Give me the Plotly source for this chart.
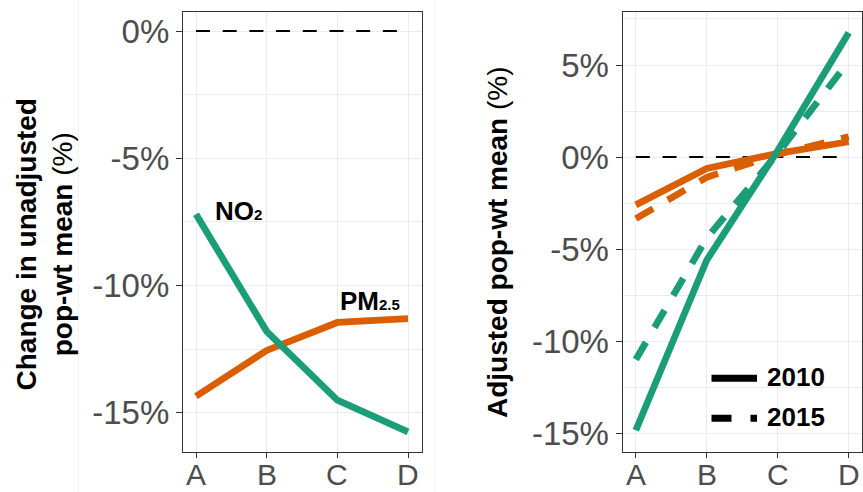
import plotly.graph_objects as go

# ---------------- data ----------------
categories = ["A", "B", "C", "D"]
unadj_no2 = [-7.2, -11.8, -14.5, -15.75]
unadj_pm25 = [-14.35, -12.55, -11.45, -11.3]
adj_no2_2010 = [-14.85, -5.6, 0.35, 6.75]
adj_no2_2015 = [-11.0, -4.4, 0.2, 5.2]
adj_pm25_2010 = [-2.6, -0.62, 0.2, 0.83]
adj_pm25_2015 = [-3.35, -1.1, 0.15, 1.1]
zero_ref = [0, 0, 0, 0]
left_ticks = [-15, -10, -5, 0]
left_ticktext = ["-15%", "-10%", "-5%", "0%"]
right_ticks = [-15, -10, -5, 0, 5]
right_ticktext = ["-15%", "-10%", "-5%", "0%", "5%"]

GREEN = "#1B9E77"
ORANGE = "#D95F02"
W, H = 863, 492
FONT = "Liberation Sans, Arial, sans-serif"
TICKCOL = "#4D4D4D"
LW = 6.8
DASH = "20px,17px"

def px(x):
    return x / W

def py(y):
    return 1 - y / H

fig = go.Figure()

# left panel
fig.add_trace(go.Scatter(x=categories, y=zero_ref, mode="lines", xaxis="x", yaxis="y",
                         line=dict(color="black", width=2, dash="14px,12.7px"), showlegend=False))
fig.add_trace(go.Scatter(x=categories, y=unadj_pm25, mode="lines", xaxis="x", yaxis="y",
                         line=dict(color=ORANGE, width=LW), showlegend=False))
fig.add_trace(go.Scatter(x=categories, y=unadj_no2, mode="lines", xaxis="x", yaxis="y",
                         line=dict(color=GREEN, width=LW), showlegend=False))

# right panel
fig.add_trace(go.Scatter(x=categories, y=zero_ref, mode="lines", xaxis="x2", yaxis="y2",
                         line=dict(color="black", width=2, dash="14px,12.7px"), showlegend=False))
fig.add_trace(go.Scatter(x=categories, y=adj_pm25_2015, mode="lines", xaxis="x2", yaxis="y2",
                         line=dict(color=ORANGE, width=LW, dash=DASH), showlegend=False))
fig.add_trace(go.Scatter(x=categories, y=adj_pm25_2010, mode="lines", xaxis="x2", yaxis="y2",
                         line=dict(color=ORANGE, width=LW), showlegend=False))
fig.add_trace(go.Scatter(x=categories, y=adj_no2_2015, mode="lines", xaxis="x2", yaxis="y2",
                         line=dict(color=GREEN, width=LW, dash=DASH), showlegend=False))
fig.add_trace(go.Scatter(x=categories, y=adj_no2_2010, mode="lines", xaxis="x2", yaxis="y2",
                         line=dict(color=GREEN, width=LW), showlegend=False))

axis_common = dict(
    showline=True, linecolor="#333333", linewidth=1.3, mirror=True,
    showgrid=True, gridcolor="#EBEBEB", gridwidth=1.3,
    ticks="outside", tickwidth=1.3, tickcolor="#333333",
    tickfont=dict(family=FONT, size=33, color=TICKCOL),
    zeroline=False, fixedrange=True, automargin=False,
)

ydom = [py(452), py(12)]

fig.update_layout(
    width=W, height=H,
    margin=dict(l=0, r=0, t=0, b=0),
    paper_bgcolor="white", plot_bgcolor="white",
    showlegend=False,
    xaxis=dict(domain=[px(183), px(422)], anchor="y", type="category",
               categoryorder="array", categoryarray=categories,
               range=[-0.184, 3.198], ticklen=5, showticklabels=False, **axis_common),
    yaxis=dict(domain=ydom, anchor="x", range=[-16.54, 0.75], ticklen=6,
               tickvals=left_ticks, ticktext=left_ticktext, ticklabelstandoff=0,
               minor=dict(dtick=2.5, tick0=0, showgrid=True, gridcolor="#EBEBEB",
                          gridwidth=1, ticks=""),
               **axis_common),
    xaxis2=dict(domain=[px(622.7), px(861.5)], anchor="y2", type="category",
                categoryorder="array", categoryarray=categories,
                range=[-0.185, 3.18], ticklen=5, showticklabels=False, **axis_common),
    yaxis2=dict(domain=ydom, anchor="x2", range=[-16.03, 7.88], ticklen=6,
                tickvals=right_ticks, ticktext=right_ticktext, ticklabelstandoff=0,
                minor=dict(dtick=2.5, tick0=0, showgrid=True, gridcolor="#EBEBEB",
                           gridwidth=1, ticks=""),
                **axis_common),
)

annotations = [
    # y-axis titles
    dict(x=px(43.5), y=py(245), xref="paper", yref="paper", textangle=-90,
         text="<b>Change in unadjusted</b><br><b>pop-wt mean</b> (%)",
         showarrow=False, xanchor="center", yanchor="middle",
         font=dict(family=FONT, size=28, color="black")),
    dict(x=px(497), y=py(242), xref="paper", yref="paper", textangle=-90,
         text="<b>Adjusted pop-wt mean</b> (%)",
         showarrow=False, xanchor="center", yanchor="middle",
         font=dict(family=FONT, size=28, color="black")),
    # series labels
    dict(x=0.24, y=-7.05, xref="x", yref="y",
         text='<b>NO<span style="font-size:15px">2</span></b>',
         showarrow=False, xanchor="left", yanchor="middle",
         font=dict(family=FONT, size=26, color="black")),
    dict(x=2.01, y=-10.6, xref="x", yref="y",
         text='<b>PM<span style="font-size:15px">2.5</span></b>',
         showarrow=False, xanchor="left", yanchor="middle",
         font=dict(family=FONT, size=26, color="black")),
    # legend labels
    dict(x=px(765), y=py(377), xref="paper", yref="paper", text="<b>2010</b>",
         showarrow=False, xanchor="left", yanchor="middle",
         font=dict(family=FONT, size=26, color="black")),
    dict(x=px(765), y=py(417), xref="paper", yref="paper", text="<b>2015</b>",
         showarrow=False, xanchor="left", yanchor="middle",
         font=dict(family=FONT, size=26, color="black")),
]
# category tick labels on both x axes (placed on the axis scale)
for xr in ("x", "x2"):
    for c in categories:
        annotations.append(dict(x=c, y=py(474.5), xref=xr, yref="paper", text=c,
                                showarrow=False, xanchor="center", yanchor="middle",
                                borderpad=0,
                                font=dict(family=FONT, size=30, color=TICKCOL)))
fig.update_layout(annotations=annotations)

shapes = [
    # legend keys
    dict(type="line", xref="paper", yref="paper", x0=px(711.5), x1=px(757),
         y0=py(378.3), y1=py(378.3), line=dict(color="black", width=7)),
    dict(type="line", xref="paper", yref="paper", x0=px(711.5), x1=px(757),
         y0=py(418.3), y1=py(418.3), line=dict(color="black", width=7, dash="20px,19px")),
    # faint panel separators
    dict(type="line", xref="paper", yref="paper", x0=px(78.3), x1=px(78.3),
         y0=0, y1=1, line=dict(color="#F3F3F3", width=1)),
    dict(type="line", xref="paper", yref="paper", x0=px(435), x1=px(435),
         y0=0, y1=1, line=dict(color="#F3F3F3", width=1)),
]
fig.update_layout(shapes=shapes)

fig.write_html("out.html")
